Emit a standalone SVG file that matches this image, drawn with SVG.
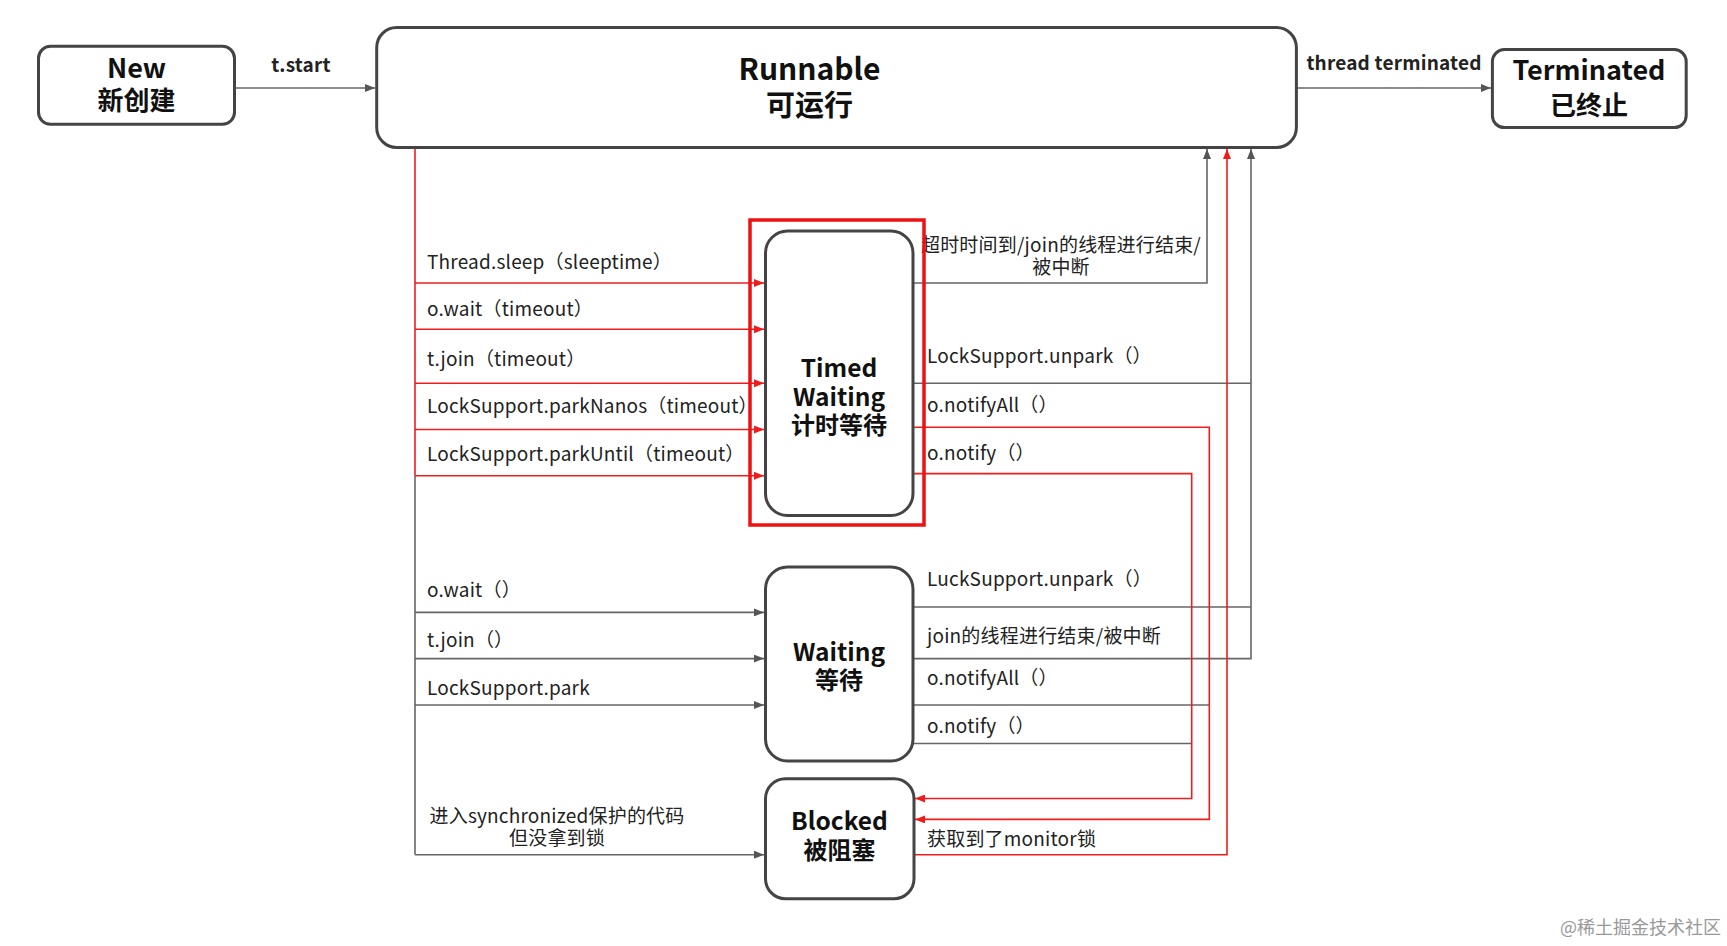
<svg xmlns="http://www.w3.org/2000/svg" width="1727" height="946" viewBox="0 0 1727 946">
<defs>
<style>
.box{fill:#fff;stroke:#444;stroke-width:3}
.title{font-family:"Noto Sans CJK SC","Noto Sans",sans-serif;font-weight:bold;fill:#111;text-anchor:middle}
.lbl{font-family:"Noto Sans CJK SC","Noto Sans",sans-serif;font-size:19px;letter-spacing:0.2px;fill:#222}
.g{fill:none;stroke:#666;stroke-width:1.6}
.r{fill:none;stroke:#f01c1c;stroke-width:1.6}
</style>
<marker id="ag" markerUnits="userSpaceOnUse" markerWidth="10" markerHeight="8" refX="10" refY="4" orient="auto"><path d="M0,0 L10,4 L0,8 z" fill="#555"/></marker>
<marker id="ar" markerUnits="userSpaceOnUse" markerWidth="10" markerHeight="8" refX="10" refY="4" orient="auto"><path d="M0,0 L10,4 L0,8 z" fill="#f01c1c"/></marker>
</defs>
<rect width="1727" height="946" fill="#fff"/>

<g id="connectors">
<path class="g" d="M234.6,88 H375" marker-end="url(#ag)"/>
<path class="g" d="M1297,88 H1491" marker-end="url(#ag)"/>
<path class="r" d="M415,148 V475.8"/>
<path class="r" d="M415,283 H764" marker-end="url(#ar)"/>
<path class="r" d="M415,329.3 H764" marker-end="url(#ar)"/>
<path class="r" d="M415,383.3 H764" marker-end="url(#ar)"/>
<path class="r" d="M415,429.5 H764" marker-end="url(#ar)"/>
<path class="r" d="M415,475.8 H764" marker-end="url(#ar)"/>
<path class="g" d="M415,475.8 V854.7"/>
<path class="g" d="M415,612.4 H764" marker-end="url(#ag)"/>
<path class="g" d="M415,658.6 H764" marker-end="url(#ag)"/>
<path class="g" d="M415,705 H764" marker-end="url(#ag)"/>
<path class="g" d="M415,854.7 H764" marker-end="url(#ag)"/>
<path class="g" d="M913,283 H1207 V149" marker-end="url(#ag)"/>
<path class="g" d="M913,383.3 H1251"/>
<path class="g" d="M913,607 H1251"/>
<path class="g" d="M913,658.6 H1251 V149" marker-end="url(#ag)"/>
<path class="g" d="M913,705 H1209.3"/>
<path class="g" d="M913,743.5 H1191.7"/>
<path class="r" d="M913,427.3 H1209.3 V819.4 H915" marker-end="url(#ar)"/>
<path class="r" d="M913,473.6 H1191.7 V798.5 H915" marker-end="url(#ar)"/>
<path class="r" d="M914,854.7 H1227 V149" marker-end="url(#ar)"/>
</g>

<g id="labels">
<text class="lbl" x="301" y="72" text-anchor="middle" font-weight="bold" font-size="20" letter-spacing="0.4">t.start</text>
<text class="lbl" x="1394" y="70" text-anchor="middle" font-weight="bold" font-size="20" letter-spacing="0.4">thread terminated</text>
<text class="lbl" x="427" y="269">Thread.sleep（sleeptime）</text>
<text class="lbl" x="427" y="316">o.wait（timeout）</text>
<text class="lbl" x="427" y="366">t.join（timeout）</text>
<text class="lbl" x="427" y="413">LockSupport.parkNanos（timeout）</text>
<text class="lbl" x="427" y="461">LockSupport.parkUntil（timeout）</text>
<text class="lbl" x="427" y="597">o.wait（）</text>
<text class="lbl" x="427" y="647">t.join（）</text>
<text class="lbl" x="427" y="695">LockSupport.park</text>
<text class="lbl" x="557" y="823" text-anchor="middle" font-size="18" letter-spacing="0"><tspan x="557">进入synchronized保护的代码</tspan><tspan x="557" dy="22">但没拿到锁</tspan></text>
<text class="lbl" x="1061" y="252" text-anchor="middle" font-size="17.7" letter-spacing="0"><tspan x="1061">超时时间到/join的线程进行结束/</tspan><tspan x="1061" dy="22">被中断</tspan></text>
<text class="lbl" x="927" y="363">LockSupport.unpark（）</text>
<text class="lbl" x="927" y="412">o.notifyAll（）</text>
<text class="lbl" x="927" y="460">o.notify（）</text>
<text class="lbl" x="927" y="586">LuckSupport.unpark（）</text>
<text class="lbl" x="927" y="643">join的线程进行结束/被中断</text>
<text class="lbl" x="927" y="685">o.notifyAll（）</text>
<text class="lbl" x="927" y="733">o.notify（）</text>
<text class="lbl" x="927" y="846">获取到了monitor锁</text>
</g>

<g id="new">
<rect class="box" x="38.5" y="46.3" width="196" height="78" rx="12"/>
<text class="title" x="136.5" y="78" font-size="27"><tspan x="136.5">New</tspan><tspan x="136.5" dy="32" font-size="26">新创建</tspan></text>
</g>

<g id="runnable">
<rect class="box" x="376.7" y="27.5" width="919.7" height="120" rx="20"/>
<text class="title" x="809.5" y="80" font-size="30"><tspan x="809.5">Runnable</tspan><tspan x="809.5" dy="36" font-size="29">可运行</tspan></text>
</g>

<g id="terminated">
<rect class="box" x="1492.4" y="49.6" width="193.8" height="78" rx="12"/>
<text class="title" x="1589" y="80" font-size="27"><tspan x="1589">Terminated</tspan><tspan x="1589" dy="35" font-size="26">已终止</tspan></text>
</g>

<g id="timed-waiting">
<rect x="750" y="220" width="174" height="305" fill="none" stroke="#ee1111" stroke-width="3.5"/>
<rect class="box" x="765.5" y="231" width="147.5" height="284.5" rx="22"/>
<text class="title" x="839" y="377" font-size="24.5"><tspan x="839">Timed</tspan><tspan x="839" dy="28.5">Waiting</tspan><tspan x="839" dy="28" font-size="24">计时等待</tspan></text>
</g>

<g id="waiting">
<rect class="box" x="765.5" y="567" width="147.5" height="194" rx="22"/>
<text class="title" x="839" y="661" font-size="24.5"><tspan x="839">Waiting</tspan><tspan x="839" dy="28" font-size="24">等待</tspan></text>
</g>

<g id="blocked">
<rect class="box" x="765.5" y="778.7" width="148.5" height="120" rx="20"/>
<text class="title" x="839.5" y="830" font-size="24.5"><tspan x="839.5">Blocked</tspan><tspan x="839.5" dy="29" font-size="24">被阻塞</tspan></text>
</g>

<text x="1721" y="934" text-anchor="end" font-family="Noto Sans CJK SC, sans-serif" font-size="18" fill="#999">@稀土掘金技术社区</text>
</svg>
